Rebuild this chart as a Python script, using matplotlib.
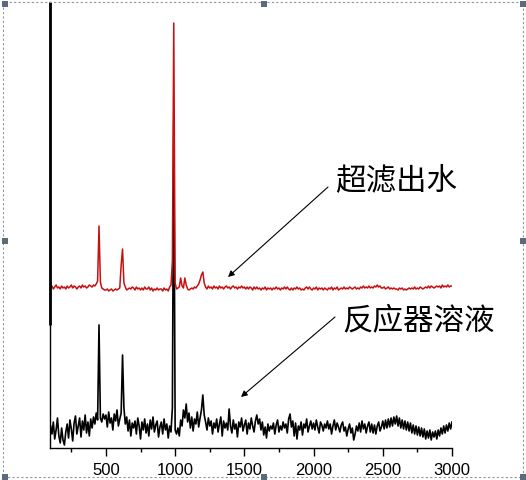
import numpy as np
import matplotlib
matplotlib.use("Agg")
import matplotlib.pyplot as plt
from matplotlib.patches import Rectangle

plt.rcParams['font.family'] = ['Liberation Sans', 'DejaVu Sans']

# wavenumber grid (cm-1)
wn_start, wn_stop, wn_step = 100, 3000, 10
wavenumber = np.arange(wn_start, wn_stop + 1, wn_step)

# 反应器溶液 (black) intensities, arbitrary units
reactor = [
    22, 14, 26, 9, 18, 30, 12, 5, 20, 8,
    3, 16, 24, 10, 28, 19, 7, 25, 32, 14,
    22, 30, 11, 27, 18, 33, 15, 26, 12, 29,
    20, 31, 24, 35, 28, 123, 30, 26, 34, 29,
    33, 21, 36, 25, 30, 18, 34, 27, 38, 22,
    29, 35, 93, 40, 24, 31, 17, 28, 12, 25,
    20, 27, 14, 30, 22, 9, 26, 18, 29, 15,
    24, 12, 28, 19, 31, 16, 23, 27, 11, 21,
    26, 14, 29, 18, 24, 10, 22, 16, 40, 327,
    18, 14, 20, 12, 28, 22, 38, 30, 44, 26,
    35, 20, 31, 17, 29, 24, 36, 21, 30, 38,
    53, 33, 26, 18, 30, 22, 27, 14, 25, 20,
    29, 16, 24, 31, 12, 27, 20, 25, 18, 39,
    22, 15, 28, 19, 24, 11, 26, 21, 30, 17,
    23, 28, 14, 25, 19, 30, 22, 16, 27, 33,
    24, 29, 18, 26, 13, 21, 10, 24, 17, 22,
    19, 25, 14, 23, 28, 16, 22, 18, 26, 20,
    24, 15, 29, 34, 21, 27, 12, 25, 9, 22,
    18, 26, 13, 24, 20, 29, 16, 22, 27, 19,
    25, 18, 28, 21, 15, 26, 23, 17, 24, 20,
    27, 19, 24, 14, 22, 28, 18, 25, 21, 16,
    23, 26, 17, 21, 12, 19, 24, 15, 20, 8,
    14, 22, 17, 25, 16, 27, 19, 24, 15, 22,
    26, 16, 24, 15, 23, 14, 22, 26, 17, 21,
    27, 19, 28, 20, 29, 21, 30, 22, 31, 24,
    32, 22, 30, 20, 28, 19, 27, 18, 26, 17,
    25, 15, 23, 14, 22, 13, 21, 12, 20, 11,
    19, 9, 17, 10, 18, 8, 16, 11, 17, 9,
    18, 12, 20, 14, 22, 15, 23, 17, 25, 19,
    26,
]

# 超滤出水 (red) intensities, arbitrary units
permeate = [
    25, 27, 24, 26, 28, 25, 26, 24, 27, 25,
    26, 24, 27, 25, 26, 28, 25, 27, 26, 24,
    26, 27, 25, 28, 26, 27, 25, 26, 28, 27,
    26, 28, 27, 29, 32, 87, 31, 25, 24, 23,
    23, 24, 22, 23, 24, 22, 23, 24, 23, 24,
    25, 48, 64, 30, 26, 23, 24, 25, 24, 26,
    25, 23, 26, 24, 25, 23, 25, 23, 26, 24,
    24, 26, 23, 25, 22, 24, 23, 25, 23, 24,
    24, 22, 25, 23, 24, 22, 26, 28, 52, 290,
    30, 24, 25, 26, 35, 27, 25, 35, 28, 24,
    23, 24, 25, 24, 26, 25, 27, 29, 33, 38,
    41, 30, 26, 24, 27, 25, 26, 24, 27, 25,
    26, 24, 27, 25, 26, 24, 26, 27, 25, 26,
    24, 26, 27, 25, 26, 24, 26, 25, 27, 25,
    26, 24, 26, 24, 26, 25, 23, 26, 24, 26,
    24, 25, 23, 25, 24, 26, 23, 25, 24, 25,
    23, 25, 24, 26, 24, 25, 23, 25, 24, 26,
    24, 26, 24, 23, 25, 23, 25, 24, 26, 24,
    25, 23, 24, 23, 25, 26, 24, 26, 24, 23,
    25, 24, 26, 23, 25, 24, 25, 23, 25, 24,
    23, 25, 24, 26, 23, 25, 24, 26, 23, 24,
    25, 24, 26, 24, 25, 24, 26, 25, 24, 25,
    26, 24, 25, 24, 26, 25, 27, 25, 26, 25,
    27, 25, 26, 25, 27, 26, 28, 26, 27, 25,
    25, 26, 24, 25, 26, 24, 25, 24, 25, 24,
    24, 23, 25, 24, 25, 23, 24, 23, 24, 25,
    24, 25, 24, 26, 24, 25, 24, 26, 25, 24,
    25, 26, 25, 27, 25, 27, 26, 25, 26, 27,
    26, 27, 25, 28, 26, 27, 26, 28, 26, 27,
    27,
]
permeate_offset = 135

labels = ["超滤出水", "反应器溶液"]
xticks = [500, 1000, 1500, 2000, 2500, 3000]

W, H = 526, 481
fig = plt.figure(figsize=(W / 100, H / 100), dpi=100)
ax = fig.add_axes([50 / W, (H - 449) / H, (452 - 50) / W, (449 - 3) / H])

ax.plot(wavenumber, np.array(reactor), color='black', lw=1.2)
ax.plot(wavenumber, np.array(permeate) + permeate_offset, color='#c81010', lw=1.1)

ax.set_xlim(96, 3000)
ax.set_ylim(0, 446)
ax.spines['top'].set_visible(False)
ax.spines['right'].set_visible(False)
ax.spines['left'].set_linewidth(1.0)
ax.spines['bottom'].set_linewidth(1.0)
ax.set_yticks([])
ax.set_xticks(xticks)
ax.set_xticks(np.arange(250, 3001, 500), minor=True)
ax.tick_params(axis='x', which='major', direction='out', length=6, width=1,
               labelsize=12, pad=4)
ax.tick_params(axis='x', which='minor', direction='out', length=3, width=1)

# thick upper-layer axis segment
ax.plot([0, 0], [123 / 446, 1], transform=ax.transAxes, color='black',
        lw=2.0, clip_on=False, solid_capstyle='butt')

cjk = ['Noto Sans CJK SC', 'DejaVu Sans']
fig.text(335 / W, 1 - 181 / H, labels[0], fontsize=22, family=cjk,
         ha='left', va='center')
fig.text(342 / W, 1 - 321 / H, labels[1], fontsize=22, family=cjk,
         ha='left', va='center')

arrowprops = dict(arrowstyle='-|>', color='black', lw=0.8, mutation_scale=9,
                  shrinkA=0, shrinkB=0)
ax.annotate('', xy=(228, H - 278), xycoords='figure pixels',
            xytext=(328, H - 188), textcoords='figure pixels', arrowprops=arrowprops)
ax.annotate('', xy=(241, H - 398), xycoords='figure pixels',
            xytext=(335, H - 318), textcoords='figure pixels', arrowprops=arrowprops)

# selection frame
fig.patches.append(Rectangle((3 / W, 3 / H), (523 - 3) / W, (478 - 3) / H,
                             transform=fig.transFigure, fill=False,
                             edgecolor='#8a96a4', lw=0.8, linestyle=(0, (2, 2))))
for cx, cy in [(4.5, 4.5), (264, 4.5), (523, 4.5), (4.5, 242), (523, 242),
               (4.5, 478), (264, 478), (523, 478)]:
    fig.patches.append(Rectangle(((cx - 3) / W, (H - cy - 3) / H), 6 / W, 6 / H,
                                 transform=fig.transFigure, facecolor='#5b6b7b',
                                 edgecolor='none'))

fig.savefig('out.png', dpi=100)
